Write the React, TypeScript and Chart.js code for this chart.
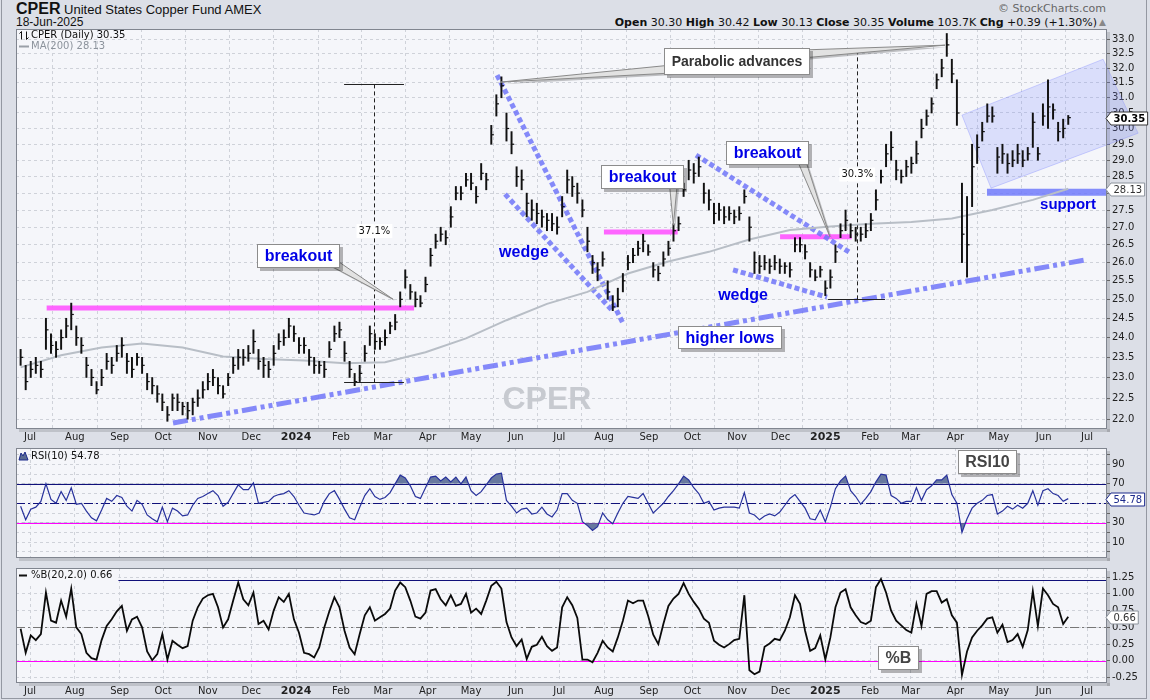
import React, { useEffect, useRef } from "react";
import { Chart, registerables } from "chart.js";

Chart.register(...registerables);

const FONT = "DejaVu Sans";
const HFONT = "Liberation Sans";
const GRID = "#cfd2d9";
const PANEL_BG = "#f5f6fa";
const OUTER_BG = "#dcdfe7";
const BLUE_TXT = "#0000e6";

// ---------------- data ----------------
// bars sampled twice a week, 24-Jun-2023 .. 18-Jun-2025
const CLOSE = [
  23.5, 22.9, 23.2, 23.3, 23.2, 24.2, 23.8, 23.7, 24.0, 24.3,
  24.6, 24.0, 23.8, 23.3, 23.0, 22.7, 23.0, 23.4, 23.3, 23.6,
  23.8, 23.4, 23.2, 23.5, 23.3, 22.9, 22.8, 22.6, 22.4, 22.1,
  22.5, 22.4, 22.3, 22.2, 22.4, 22.5, 22.7, 22.9, 23.0, 22.8,
  22.6, 23.0, 23.3, 23.5, 23.5, 23.6, 23.9, 23.4, 23.3, 23.2,
  23.6, 23.9, 24.0, 24.3, 24.1, 23.8, 23.8, 23.5, 23.3, 23.3,
  23.2, 23.7, 24.1, 24.2, 23.6, 23.2, 22.9, 23.1, 23.6, 24.1,
  23.9, 23.9, 24.0, 24.3, 24.4, 25.0, 25.6, 25.2, 25.0, 24.9,
  25.4, 26.2, 26.6, 26.8, 26.7, 27.3, 28.0, 28.0, 28.4, 28.3,
  27.9, 28.6, 28.4, 29.8, 30.8, 31.4, 30.0, 29.5, 28.5, 28.4,
  27.7, 27.5, 27.4, 27.3, 27.2, 27.1, 27.0, 27.6, 28.4, 28.2,
  28.0, 27.5, 26.6, 26.0, 25.8, 26.1, 25.2, 24.8, 25.0, 25.5,
  26.0, 26.2, 26.4, 26.6, 26.3, 25.8, 25.7, 26.1, 26.4, 26.9,
  27.1, 28.1, 28.7, 28.6, 28.8, 28.0, 27.8, 27.4, 27.5, 27.3,
  27.4, 27.3, 27.4, 27.9, 27.0, 26.0, 25.9, 26.0, 25.9, 26.0,
  25.9, 25.9, 25.8, 26.5, 26.5, 26.3, 25.8, 25.6, 25.8, 25.3,
  25.6, 26.3, 26.9, 27.2, 26.9, 26.8, 26.8, 26.9, 27.2, 27.8,
  28.5, 29.2, 29.4, 28.7, 28.5, 28.8, 28.9, 29.2, 30.0, 30.4,
  30.8, 31.6, 32.0, 32.8, 31.8, 30.5, 26.8, 26.5, 28.8, 29.4,
  29.9, 30.4, 30.4, 29.1, 29.2, 28.9, 29.0, 29.2, 29.0, 29.2,
  30.2, 29.2, 30.4, 30.7, 30.6, 29.9, 30.0, 30.35,
];
const HIGH = [
  23.7, 23.3, 23.4, 23.5, 23.4, 24.5, 24.1, 23.9, 24.2, 24.5,
  24.9, 24.3, 24.0, 23.5, 23.2, 22.9, 23.2, 23.6, 23.5, 23.8,
  24.0, 23.6, 23.5, 23.6, 23.5, 23.1, 23.0, 22.8, 22.6, 22.3,
  22.6, 22.6, 22.4, 22.4, 22.5, 22.7, 22.9, 23.1, 23.2, 23.0,
  22.8, 23.1, 23.5, 23.7, 23.7, 23.8, 24.2, 23.7, 23.5, 23.4,
  23.8, 24.1, 24.2, 24.5, 24.3, 24.0, 24.0, 23.7, 23.5, 23.4,
  23.4, 23.9, 24.3, 24.4, 23.9, 23.4, 23.1, 23.3, 23.8, 24.3,
  24.1, 24.0, 24.2, 24.4, 24.6, 25.2, 25.8, 25.4, 25.2, 25.1,
  25.6, 26.4, 26.8, 27.0, 26.9, 27.6, 28.2, 28.2, 28.6, 28.6,
  28.2, 28.9, 28.6, 30.1, 31.1, 31.7, 30.5, 29.9, 28.8, 28.7,
  28.0, 27.8, 27.7, 27.5, 27.4, 27.4, 27.3, 27.9, 28.7, 28.5,
  28.3, 27.8, 27.0, 26.2, 26.0, 26.3, 25.5, 25.1, 25.3, 25.7,
  26.2, 26.4, 26.6, 26.8, 26.5, 26.0, 25.9, 26.3, 26.6, 27.1,
  27.3, 28.3, 29.0, 28.9, 29.1, 28.3, 28.1, 27.7, 27.7, 27.6,
  27.6, 27.5, 27.6, 28.1, 27.3, 26.3, 26.2, 26.2, 26.1, 26.2,
  26.1, 26.0, 26.0, 26.7, 26.7, 26.5, 26.0, 25.8, 25.9, 25.5,
  25.8, 26.5, 27.1, 27.5, 27.1, 27.0, 27.0, 27.1, 27.4, 28.1,
  28.7, 29.5, 29.9, 29.0, 28.7, 29.0, 29.1, 29.6, 30.3, 30.6,
  31.0, 31.8, 32.3, 33.2, 32.3, 31.6, 28.3, 27.9, 29.5, 29.8,
  30.2, 30.8, 30.7, 29.4, 29.5, 29.2, 29.3, 29.5, 29.3, 29.4,
  30.5, 29.4, 30.8, 31.6, 30.8, 30.2, 30.3, 30.42,
];
const LOW = [
  23.3, 22.7, 23.0, 23.1, 23.0, 23.7, 23.6, 23.5, 23.7, 24.0,
  24.2, 23.8, 23.6, 23.0, 22.8, 22.6, 22.8, 23.2, 23.1, 23.4,
  23.5, 23.1, 23.0, 23.3, 23.1, 22.7, 22.6, 22.4, 22.2, 21.95,
  22.2, 22.2, 22.1, 22.0, 22.1, 22.3, 22.5, 22.7, 22.8, 22.6,
  22.5, 22.8, 23.1, 23.2, 23.3, 23.4, 23.6, 23.2, 23.0, 23.0,
  23.3, 23.7, 23.8, 24.0, 23.9, 23.6, 23.6, 23.3, 23.1, 23.1,
  23.0, 23.5, 23.9, 24.0, 23.4, 23.0, 22.8, 22.9, 23.4, 23.8,
  23.7, 23.7, 23.8, 24.1, 24.2, 24.8, 25.3, 25.0, 24.8, 24.8,
  25.2, 25.9, 26.4, 26.6, 26.5, 27.0, 27.8, 27.8, 28.2, 28.1,
  27.7, 28.4, 28.1, 29.5, 30.4, 31.0, 29.6, 29.2, 28.2, 28.1,
  27.3, 27.2, 27.1, 27.0, 26.9, 26.9, 26.8, 27.3, 28.0, 27.9,
  27.7, 27.3, 26.3, 25.7, 25.5, 25.9, 25.0, 24.7, 24.8, 25.2,
  25.8, 26.0, 26.2, 26.3, 26.2, 25.6, 25.5, 25.9, 26.2, 26.6,
  26.9, 27.9, 28.4, 28.3, 28.5, 27.7, 27.5, 27.1, 27.2, 27.1,
  27.2, 27.1, 27.2, 27.7, 26.6, 25.7, 25.7, 25.8, 25.7, 25.8,
  25.7, 25.7, 25.6, 26.3, 26.3, 26.1, 25.6, 25.5, 25.6, 25.1,
  25.3, 26.0, 26.7, 26.9, 26.7, 26.6, 26.6, 26.7, 26.9, 27.5,
  28.3, 28.8, 29.0, 28.4, 28.3, 28.5, 28.6, 28.9, 29.7, 30.1,
  30.5, 31.3, 31.7, 32.4, 31.5, 30.1, 26.0, 25.6, 27.6, 28.9,
  29.6, 30.2, 30.2, 28.6, 28.9, 28.6, 28.8, 28.9, 28.8, 29.0,
  29.4, 29.0, 30.1, 30.0, 30.3, 29.6, 29.7, 30.13,
];
// 200-day moving average, one reading every 8th bar (last one = latest bar)
const MA200 = [
  23.25, 23.55, 23.75, 23.85, 23.75, 23.52, 23.46, 23.42, 23.35, 23.38,
  23.63, 23.98, 24.45, 24.88, 25.2, 25.7, 26.03, 26.3, 26.65, 26.92,
  27.02, 27.1, 27.15, 27.25, 27.5, 27.8, 28.13,
];
const RSI10 = [
  47, 33, 44, 46, 52, 70, 54, 50, 62, 53,
  66, 49, 50, 42, 35, 32, 43, 55, 52, 58,
  56, 47, 42, 53, 49, 38, 34, 31, 46, 31,
  45, 42, 37, 38, 48, 55, 57, 60, 63, 58,
  47, 51, 60, 69, 64, 64, 71, 50, 51, 52,
  57, 59, 60, 63, 57, 48, 40, 39, 38, 40,
  52, 60, 63, 54, 44, 35, 33, 46, 58, 65,
  57, 54, 56, 61, 70, 79, 76, 68, 57, 55,
  66, 77, 78, 73, 77, 72, 77, 70, 77, 63,
  58, 62, 69, 76, 80, 81, 53, 47, 40, 44,
  45, 39, 40, 46, 39, 36, 43, 60, 60, 53,
  50, 31, 27, 22, 26, 40, 33, 29, 40, 50,
  57, 56, 55, 60, 50, 40, 45, 50, 57, 63,
  70, 78, 74, 66, 60, 50, 52, 43, 45, 46,
  46, 46, 45, 61, 40, 38, 33, 37, 39, 37,
  41, 48, 55, 59, 52, 45, 34, 33, 43, 31,
  46, 65, 73, 78, 63, 57, 49, 55, 62, 72,
  80, 79, 58, 55, 50, 52, 52, 66, 53, 64,
  68, 74, 74, 79, 59, 50, 20, 34, 45, 50,
  53, 58, 59, 39, 42, 47, 44, 48, 45, 50,
  63, 48, 63, 65, 60, 58, 52, 54.78,
];
const PCT_B = [
  0.48, 0.12, 0.38, 0.31, 0.40, 1.02, 0.60, 0.57, 0.90, 0.66,
  1.08, 0.50, 0.40, 0.12, 0.04, 0.02, 0.31, 0.52, 0.62, 0.74,
  0.82, 0.45, 0.62, 0.66, 0.50, 0.14, 0.01, 0.10, 0.40, 0.02,
  0.30, 0.24, 0.19, 0.22, 0.60, 0.80, 0.93, 0.98, 1.00, 0.80,
  0.50, 0.62, 0.90, 1.17, 0.92, 0.83, 1.02, 0.55, 0.60, 0.47,
  0.75, 0.95, 0.88, 1.00, 0.62, 0.42, 0.12, 0.10, 0.05, 0.20,
  0.50, 0.74, 0.95, 0.80, 0.45, 0.20, 0.10, 0.40, 0.68, 0.80,
  0.60, 0.65, 0.70, 0.78, 1.05, 1.17, 1.10, 0.90, 0.66, 0.63,
  0.72, 1.05, 1.07, 0.92, 0.83, 0.98, 0.82, 0.85, 1.00, 0.72,
  0.78, 0.70, 0.90, 1.12, 1.18, 1.08, 0.58, 0.35, 0.22, 0.32,
  0.03, 0.21, 0.24, 0.36, 0.22, 0.15, 0.20, 0.80, 0.95, 0.83,
  0.64, 0.02, 0.02, -0.02, 0.12, 0.30, 0.20, 0.14, 0.35, 0.60,
  0.90, 0.86, 0.90, 0.90, 0.67, 0.39, 0.25, 0.55, 0.82, 0.93,
  1.00, 1.16, 1.00, 0.88, 0.78, 0.63, 0.57, 0.30, 0.24, 0.20,
  0.25, 0.31, 0.33, 0.98, -0.14, -0.20, -0.16, 0.21, 0.26, 0.33,
  0.31, 0.45, 0.65, 0.98, 0.85, 0.45, 0.15, 0.19, 0.38, 0.02,
  0.35, 0.80, 1.02, 1.07, 0.80, 0.68, 0.58, 0.55, 0.60, 1.10,
  1.22, 1.02, 0.75, 0.60, 0.53, 0.46, 0.42, 0.85, 0.52, 1.00,
  1.04, 1.04, 0.87, 0.92, 0.68, 0.57, -0.21, 0.14, 0.35, 0.45,
  0.53, 0.63, 0.65, 0.42, 0.54, 0.28, 0.31, 0.40, 0.21, 0.46,
  1.04, 0.52, 1.08, 0.98, 0.85, 0.80, 0.55, 0.66,
];

const PRICE_TICKS = [22.0, 22.5, 23.0, 23.5, 24.0, 24.5, 25.0, 25.5, 26.0, 26.5, 27.0, 27.5, 28.0, 28.5, 29.0, 29.5, 30.0, 30.5, 31.0, 31.5, 32.0, 32.5, 33.0];
const RSI_GRID = [0, 10, 20, 30, 40, 50, 60, 70, 80, 90, 100];
const RSI_LABELS = [10, 30, 50, 70, 90];
const PCTB_TICKS = [-0.25, 0, 0.25, 0.5, 0.75, 1.0, 1.25];
const MONTH_NAMES = ["Jan", "Feb", "Mar", "Apr", "May", "Jun", "Jul", "Aug", "Sep", "Oct", "Nov", "Dec"];

// x axis is "days after 1-Jul-2023"
const LAST_DAY = 718; // 18-Jun-2025
const DAY_STEP = 3.5;
const N = CLOSE.length;
const DAYS = CLOSE.map((_, i) => LAST_DAY - DAY_STEP * (N - 1 - i));
const MA_STEP = 8;
const MA_DAYS = MA200.map((_, k) => (k < MA200.length - 1 ? DAYS[k * MA_STEP] : DAYS[N - 1]));
const BASE_MS = Date.UTC(2023, 6, 1);
const MONTH_TICKS = Array.from({ length: 25 }, (_, k) => {
  const d = new Date(Date.UTC(2023, 6 + k, 1));
  const m = d.getUTCMonth();
  return {
    day: Math.round((d.getTime() - BASE_MS) / 864e5),
    label: m === 0 ? String(d.getUTCFullYear()) : MONTH_NAMES[m],
    year: m === 0,
  };
});
const X_MIN = -9.7;
const X_MAX = 744.8;

// annotations (in data units: day, price)
const PINK_LEVELS = [
  { from: 11.5, to: 265.6, price: 24.77 },
  { from: 396.9, to: 447.9, price: 26.86 },
  { from: 518.7, to: 568.2, price: 26.73 },
];
const WEDGES = [
  [323, 31.76, 410.1, 24.37],
  [328.5, 27.97, 402.5, 24.71],
  [460.6, 29.16, 567.8, 26.26],
  [486.2, 25.8, 551.2, 25.06],
];
const HIGHER_LOWS = [98.9, 21.91, 729.1, 26.07];
const SUPPORT = { from: 661.8, to: 744.8, price: 28.03 };
const CHANNEL = [[644.5, 30.43], [742.1, 32.3], [766.3, 29.85], [664.6, 28.15]];
const MEASURES = [
  { day: 238.2, from: 22.88, to: 31.45, capFrom: 217.2, capTo: 258.6, topCap: true, label: "37.1%", labelAt: 26.89 },
  { day: 572.1, from: 25.0, to: 32.58, capFrom: 551.9, capTo: 591.3, topCap: false, label: "30.3%", labelAt: 28.56 },
];
const CALLOUTS = [
  { text: "breakout", day: 185.7, val: 26.17, tips: [[251.2, 25.0]], color: BLUE_TXT, size: 16, h: 24 },
  { text: "Parabolic advances", day: 488.6, val: 32.24, tips: [[325, 31.52], [632.8, 32.79]], color: "#333", size: 14, h: 27 },
  { text: "breakout", day: 423.4, val: 28.5, tips: [[444.9, 27.06]], color: BLUE_TXT, size: 16, h: 24 },
  { text: "breakout", day: 509.7, val: 29.21, tips: [[553.3, 26.72]], color: BLUE_TXT, size: 16, h: 24 },
  { text: "higher lows", day: 484.4, val: 24.01, tips: [], color: BLUE_TXT, size: 16, h: 23 },
];
const LABELS = [
  { text: "wedge", day: 341.6, val: 26.29, size: 16 },
  { text: "wedge", day: 493.1, val: 25.09, size: 16 },
  { text: "support", day: 717.8, val: 27.65, size: 15 },
];
const WATERMARK = { text: "CPER", day: 357.5, val: 22.45 };
const RSI_LEVELS = [
  { v: 70, color: "#10107a", dash: [] as number[] },
  { v: 50, color: "#10107a", dash: [9, 3, 2, 3] },
  { v: 30, color: "#ff00ff", dash: [] as number[] },
];
const PCTB_LEVELS = [
  { v: 1.2, color: "#10107a", dash: [] as number[] },
  { v: 0.5, color: "#777777", dash: [9, 3, 2, 3] },
  { v: 0, color: "#ff00ff", dash: [] as number[] },
];

// ---------------- drawing helpers ----------------
function P(chart: any, day: number, val: number): [number, number] {
  return [chart.scales.x.getPixelForValue(day), chart.scales.y.getPixelForValue(val)];
}

function panelBg(chart: any) {
  const { ctx, chartArea: a } = chart;
  ctx.save();
  ctx.fillStyle = "rgba(0,0,0,0.13)";
  ctx.fillRect(a.right, a.top + 3, 3, a.height);
  ctx.fillRect(a.left + 3, a.bottom, a.width, 3);
  ctx.fillStyle = PANEL_BG;
  ctx.fillRect(a.left, a.top, a.width, a.height);
  ctx.restore();
}

function panelBorder(chart: any) {
  const { ctx, chartArea: a } = chart;
  ctx.save();
  ctx.strokeStyle = "#80858f";
  ctx.lineWidth = 1;
  ctx.strokeRect(a.left + 0.5, a.top + 0.5, a.width - 1, a.height - 1);
  ctx.restore();
}

function levelLines(chart: any, levels: { v: number; color: string; dash: number[] }[]) {
  const { ctx, chartArea: a } = chart;
  ctx.save();
  levels.forEach((l) => {
    const y = Math.round(chart.scales.y.getPixelForValue(l.v)) + 0.5;
    ctx.strokeStyle = l.color;
    ctx.lineWidth = 1;
    ctx.setLineDash(l.dash);
    ctx.beginPath();
    ctx.moveTo(a.left, y);
    ctx.lineTo(a.right, y);
    ctx.stroke();
  });
  ctx.restore();
}

function drawCallout(chart: any, c: any) {
  const ctx = chart.ctx;
  ctx.save();
  ctx.font = `bold ${c.size}px ${HFONT}`;
  const tw = ctx.measureText(c.text).width;
  const [cx, cy] = P(chart, c.day, c.val);
  const w = Math.round(tw + 15);
  const h = c.h;
  const L = Math.round(cx - w / 2);
  const T = Math.round(cy - h / 2);
  const R = L + w;
  const B = T + h;
  c.tips.forEach((tip: number[]) => {
    const [tx, ty] = P(chart, tip[0], tip[1]);
    const bx = Math.min(Math.max(tx, L + 8), R - 8);
    const by = Math.min(Math.max(ty, T + 6), B - 6);
    const len = Math.hypot(tx - bx, ty - by) || 1;
    const nx = (-(ty - by) / len) * 4;
    const ny = ((tx - bx) / len) * 4;
    const tri = (ox: number, oy: number) => {
      ctx.beginPath();
      ctx.moveTo(bx + nx + ox, by + ny + oy);
      ctx.lineTo(tx + ox, ty + oy);
      ctx.lineTo(bx - nx + ox, by - ny + oy);
      ctx.closePath();
    };
    ctx.fillStyle = "rgba(0,0,0,0.22)";
    tri(2, 2);
    ctx.fill();
    ctx.fillStyle = "#e2e2e2";
    ctx.strokeStyle = "#8a8a8a";
    ctx.lineWidth = 1;
    tri(0, 0);
    ctx.fill();
    ctx.stroke();
  });
  ctx.fillStyle = "rgba(0,0,0,0.28)";
  ctx.fillRect(L + 3, T + 3, w, h);
  ctx.fillStyle = "#ffffff";
  ctx.fillRect(L, T, w, h);
  ctx.strokeStyle = "#8c8c8c";
  ctx.lineWidth = 1;
  ctx.strokeRect(L + 0.5, T + 0.5, w - 1, h - 1);
  ctx.fillStyle = c.color;
  ctx.textAlign = "center";
  ctx.textBaseline = "middle";
  ctx.fillText(c.text, L + w / 2, T + h / 2 + 1);
  ctx.restore();
}

function drawFlag(chart: any, val: number, text: string, opts: { bold: boolean; border: string; color: string }) {
  const ctx = chart.ctx;
  const a = chart.chartArea;
  const y = Math.round(chart.scales.y.getPixelForValue(val)) + 0.5;
  const x = a.right - 1;
  ctx.save();
  ctx.font = `${opts.bold ? "bold " : ""}10px ${FONT}`;
  const tw = ctx.measureText(text).width;
  const h = 13;
  const ar = 5;
  ctx.beginPath();
  ctx.moveTo(x, y);
  ctx.lineTo(x + ar, y - h / 2);
  ctx.lineTo(x + ar + tw + 5, y - h / 2);
  ctx.lineTo(x + ar + tw + 5, y + h / 2);
  ctx.lineTo(x + ar, y + h / 2);
  ctx.closePath();
  ctx.fillStyle = "#ffffff";
  ctx.fill();
  ctx.strokeStyle = opts.border;
  ctx.lineWidth = 1;
  ctx.stroke();
  ctx.fillStyle = opts.color;
  ctx.textAlign = "left";
  ctx.textBaseline = "middle";
  ctx.fillText(text, x + ar + 2.5, y + 0.5);
  ctx.restore();
}

function legendText(ctx: any, x: number, y: number, text: string, color: string) {
  ctx.fillStyle = color;
  ctx.font = `10px ${FONT}`;
  ctx.textAlign = "left";
  ctx.textBaseline = "middle";
  ctx.fillText(text, x, y);
}

function segLine(chart: any, seg: number[], width: number, color: string, dash: number[]) {
  const ctx = chart.ctx;
  const [x1, y1] = P(chart, seg[0], seg[1]);
  const [x2, y2] = P(chart, seg[2], seg[3]);
  ctx.save();
  ctx.strokeStyle = color;
  ctx.lineWidth = width;
  ctx.setLineDash(dash);
  ctx.lineCap = "butt";
  ctx.beginPath();
  ctx.moveTo(x1, y1);
  ctx.lineTo(x2, y2);
  ctx.stroke();
  ctx.restore();
}

function xScale(showLabels: boolean) {
  return {
    type: "linear",
    min: X_MIN,
    max: X_MAX,
    offset: false,
    afterBuildTicks: (s: any) => {
      s.ticks = MONTH_TICKS.map((t) => ({ value: t.day }));
    },
    afterFit: (s: any) => {
      s.height = showLabels ? 14 : 0;
    },
    ticks: {
      display: showLabels,
      autoSkip: false,
      maxRotation: 0,
      minRotation: 0,
      padding: 2,
      color: "#222",
      callback: (v: any) => {
        const t = MONTH_TICKS.find((m) => m.day === v);
        return t ? t.label : "";
      },
      font: (ctx: any) => {
        const t = MONTH_TICKS.find((m) => m.day === (ctx.tick && ctx.tick.value));
        return { family: FONT, size: t && t.year ? 11 : 10, weight: t && t.year ? "bold" : "normal" };
      },
    },
    grid: { color: GRID, drawTicks: false, lineWidth: 1 },
    border: { display: false, dash: [3, 3] },
  };
}

function rightY(extra: any) {
  return {
    position: "right",
    afterFit: (s: any) => {
      s.width = 43;
    },
    grid: { color: GRID, tickColor: "#666", tickLength: 3, drawTicks: true, lineWidth: 1 },
    border: { display: false, dash: [3, 3] },
    ...extra,
  };
}

// ---------------- plugins ----------------
const pricePlugin = {
  id: "priceDecor",
  beforeDraw(chart: any) {
    panelBg(chart);
  },
  beforeDatasetsDraw(chart: any) {
    const { ctx, chartArea: a } = chart;
    ctx.save();
    ctx.beginPath();
    ctx.rect(a.left, a.top, a.width, a.height);
    ctx.clip();
    // watermark
    const [wx, wy] = P(chart, WATERMARK.day, WATERMARK.val);
    ctx.font = `bold 32px ${HFONT}`;
    ctx.fillStyle = "#c7cad0";
    ctx.textAlign = "center";
    ctx.textBaseline = "middle";
    ctx.fillText(WATERMARK.text, wx, wy);
    // pink breakout levels
    PINK_LEVELS.forEach((l) => segLine(chart, [l.from, l.price, l.to, l.price], 5, "rgba(255,85,255,0.9)", []));
    // higher lows trend line
    segLine(chart, HIGHER_LOWS, 5, "rgba(112,118,248,0.85)", [15, 4, 4, 4, 4, 4]);
    // wedges
    WEDGES.forEach((w) => segLine(chart, w, 5, "rgba(112,118,248,0.85)", [5, 3]));
    // support
    segLine(chart, [SUPPORT.from, SUPPORT.price, SUPPORT.to, SUPPORT.price], 7, "rgba(112,122,250,0.85)", []);
    ctx.restore();
    // rising channel (extends past the plot)
    ctx.save();
    ctx.beginPath();
    CHANNEL.forEach((c, i) => {
      const [x, y] = P(chart, c[0], c[1]);
      if (i === 0) ctx.moveTo(x, y);
      else ctx.lineTo(x, y);
    });
    ctx.closePath();
    ctx.fillStyle = "rgba(125,135,255,0.22)";
    ctx.fill();
    ctx.strokeStyle = "rgba(125,135,255,0.35)";
    ctx.lineWidth = 1;
    ctx.stroke();
    ctx.restore();
  },
  afterDatasetsDraw(chart: any) {
    const { ctx, chartArea: a } = chart;
    // measurements
    MEASURES.forEach((m) => {
      const [x, y1] = P(chart, m.day, m.from);
      const [, y2] = P(chart, m.day, m.to);
      const [c1] = P(chart, m.capFrom, m.from);
      const [c2] = P(chart, m.capTo, m.from);
      const xs = Math.round(x) + 0.5;
      ctx.save();
      ctx.strokeStyle = "#222";
      ctx.lineWidth = 1;
      ctx.setLineDash([4, 3]);
      ctx.beginPath();
      ctx.moveTo(xs, y1);
      ctx.lineTo(xs, y2);
      ctx.stroke();
      ctx.setLineDash([]);
      ctx.beginPath();
      ctx.moveTo(c1, Math.round(y1) + 0.5);
      ctx.lineTo(c2, Math.round(y1) + 0.5);
      if (m.topCap) {
        ctx.moveTo(c1, Math.round(y2) + 0.5);
        ctx.lineTo(c2, Math.round(y2) + 0.5);
      }
      ctx.stroke();
      const [, ly] = P(chart, m.day, m.labelAt);
      ctx.font = `10px ${FONT}`;
      const tw = ctx.measureText(m.label).width;
      ctx.fillStyle = "#ffffff";
      ctx.fillRect(x - tw / 2 - 2, ly - 7, tw + 4, 14);
      ctx.fillStyle = "#111";
      ctx.textAlign = "center";
      ctx.textBaseline = "middle";
      ctx.fillText(m.label, x, ly);
      ctx.restore();
    });
    // plain labels
    ctx.save();
    LABELS.forEach((l) => {
      const [x, y] = P(chart, l.day, l.val);
      ctx.font = `bold ${l.size}px ${HFONT}`;
      ctx.fillStyle = BLUE_TXT;
      ctx.textAlign = "center";
      ctx.textBaseline = "middle";
      ctx.fillText(l.text, x, y);
    });
    ctx.restore();
    CALLOUTS.forEach((c) => drawCallout(chart, c));
    // legend
    ctx.save();
    const lx = a.left + 4;
    const ly = a.top + 6.5;
    ctx.strokeStyle = "#111";
    ctx.lineWidth = 1;
    ctx.beginPath();
    ctx.moveTo(lx + 1.5, ly - 4);
    ctx.lineTo(lx + 1.5, ly + 4);
    ctx.moveTo(lx + 1.5, ly - 4);
    ctx.lineTo(lx - 0.5, ly - 2);
    ctx.moveTo(lx + 6.5, ly - 4);
    ctx.lineTo(lx + 6.5, ly + 4);
    ctx.moveTo(lx + 6.5, ly + 4);
    ctx.lineTo(lx + 8.5, ly + 2);
    ctx.stroke();
    legendText(ctx, a.left + 15, ly, `CPER (Daily) ${CLOSE[N - 1].toFixed(2)}`, "#111");
    ctx.strokeStyle = "#9aa0a8";
    ctx.lineWidth = 2;
    ctx.beginPath();
    ctx.moveTo(lx - 1, ly + 11);
    ctx.lineTo(lx + 9, ly + 11);
    ctx.stroke();
    legendText(ctx, a.left + 15, ly + 11, `MA(200) ${MA200[MA200.length - 1].toFixed(2)}`, "#8c939c");
    ctx.restore();
  },
  afterDraw(chart: any) {
    panelBorder(chart);
    drawFlag(chart, MA200[MA200.length - 1], MA200[MA200.length - 1].toFixed(2), { bold: false, border: "#8c939c", color: "#333" });
    drawFlag(chart, CLOSE[N - 1], CLOSE[N - 1].toFixed(2), { bold: true, border: "#333", color: "#000" });
  },
};

const rsiPlugin = {
  id: "rsiDecor",
  beforeDraw(chart: any) {
    panelBg(chart);
  },
  beforeDatasetsDraw(chart: any) {
    levelLines(chart, RSI_LEVELS);
  },
  afterDatasetsDraw(chart: any) {
    const { ctx, chartArea: a } = chart;
    drawCallout(chart, { text: "RSI10", day: 662.2, val: 92, tips: [], color: "#444", size: 16, h: 24 });
    ctx.save();
    const lx = a.left + 3;
    const ly = a.top + 8;
    ctx.fillStyle = "#5a6b93";
    ctx.strokeStyle = "#1c2a8c";
    ctx.lineWidth = 1;
    ctx.beginPath();
    ctx.moveTo(lx, ly + 4);
    ctx.lineTo(lx + 2, ly - 3);
    ctx.lineTo(lx + 4, ly);
    ctx.lineTo(lx + 6, ly - 4);
    ctx.lineTo(lx + 9, ly + 4);
    ctx.closePath();
    ctx.fill();
    ctx.stroke();
    legendText(ctx, a.left + 15, ly, `RSI(10) ${RSI10[N - 1].toFixed(2)}`, "#111");
    ctx.restore();
  },
  afterDraw(chart: any) {
    panelBorder(chart);
    drawFlag(chart, RSI10[N - 1], RSI10[N - 1].toFixed(2), { bold: false, border: "#1c2a8c", color: "#1c2a8c" });
  },
};

const pctbPlugin = {
  id: "pctbDecor",
  beforeDraw(chart: any) {
    panelBg(chart);
  },
  beforeDatasetsDraw(chart: any) {
    levelLines(chart, PCTB_LEVELS);
  },
  afterDatasetsDraw(chart: any) {
    const { ctx, chartArea: a } = chart;
    drawCallout(chart, { text: "%B", day: 600.9, val: 0.04, tips: [], color: "#444", size: 16, h: 24 });
    ctx.save();
    const text = `%B(20,2.0) ${PCT_B[N - 1].toFixed(2)}`;
    ctx.font = `10px ${FONT}`;
    const tw = ctx.measureText(text).width;
    ctx.fillStyle = PANEL_BG;
    ctx.fillRect(a.left + 1, a.top + 1, tw + 20, 14);
    const ly = a.top + 7.5;
    ctx.strokeStyle = "#111";
    ctx.lineWidth = 2;
    ctx.beginPath();
    ctx.moveTo(a.left + 3, ly);
    ctx.lineTo(a.left + 11, ly);
    ctx.stroke();
    legendText(ctx, a.left + 15, ly, text, "#111");
    ctx.restore();
  },
  afterDraw(chart: any) {
    panelBorder(chart);
    drawFlag(chart, PCT_B[N - 1], PCT_B[N - 1].toFixed(2), { bold: false, border: "#8c939c", color: "#333" });
  },
};

// ---------------- charts ----------------
const baseOptions = {
  responsive: false,
  maintainAspectRatio: false,
  animation: false,
  events: [] as any[],
  plugins: { legend: { display: false }, tooltip: { enabled: false } },
};

function makePrice(canvas: HTMLCanvasElement) {
  return new Chart(canvas, {
    type: "bar",
    data: {
      datasets: [
        {
          type: "bar",
          data: DAYS.map((d, i) => ({ x: d, y: [LOW[i], HIGH[i]] })),
          backgroundColor: "#111",
          barThickness: 1.3,
          grouped: false,
          order: 2,
        } as any,
        {
          type: "scatter",
          data: DAYS.map((d, i) => ({ x: d, y: CLOSE[i] })),
          pointStyle: "dash",
          pointRadius: 2.6,
          pointBorderWidth: 1.2,
          pointBorderColor: "#111",
          borderColor: "#111",
          order: 1,
        } as any,
        {
          type: "line",
          data: MA_DAYS.map((d, k) => ({ x: d, y: MA200[k] })),
          borderColor: "#b8bec6",
          borderWidth: 2,
          pointRadius: 0,
          order: 3,
        } as any,
      ],
    },
    options: {
      ...baseOptions,
      layout: { padding: { left: 16, top: 29, right: 0, bottom: 2 } },
      scales: {
        x: xScale(true),
        y: rightY({
          type: "logarithmic",
          min: 21.77,
          max: 33.36,
          afterBuildTicks: (s: any) => {
            s.ticks = PRICE_TICKS.map((v) => ({ value: v }));
          },
          ticks: {
            autoSkip: false,
            padding: 2,
            color: "#222",
            font: { family: FONT, size: 10 },
            callback: (v: any) => Number(v).toFixed(1),
          },
        }),
      },
    } as any,
    plugins: [pricePlugin],
  } as any);
}

function makeRsi(canvas: HTMLCanvasElement) {
  const pts = DAYS.map((d, i) => ({ x: d, y: RSI10[i] }));
  const fillCol = "rgba(78,98,142,0.85)";
  return new Chart(canvas, {
    type: "line",
    data: {
      datasets: [
        {
          data: pts,
          borderColor: "#27319c",
          borderWidth: 1.2,
          pointRadius: 0,
          fill: { target: { value: 70 }, above: fillCol, below: "rgba(0,0,0,0)" },
        },
        {
          data: pts,
          borderColor: "rgba(0,0,0,0)",
          borderWidth: 1,
          pointRadius: 0,
          fill: { target: { value: 30 }, above: "rgba(0,0,0,0)", below: fillCol },
        },
      ],
    },
    options: {
      ...baseOptions,
      layout: { padding: { left: 16, top: 3, right: 0, bottom: 3 } },
      scales: {
        x: xScale(false),
        y: rightY({
          type: "linear",
          min: -6.3,
          max: 106.9,
          afterBuildTicks: (s: any) => {
            s.ticks = RSI_GRID.map((v) => ({ value: v }));
          },
          ticks: {
            autoSkip: false,
            padding: 2,
            color: "#222",
            font: { family: FONT, size: 10 },
            callback: (v: any) => (RSI_LABELS.includes(Number(v)) ? String(v) : ""),
          },
        }),
      },
    } as any,
    plugins: [rsiPlugin],
  } as any);
}

function makePctB(canvas: HTMLCanvasElement) {
  return new Chart(canvas, {
    type: "line",
    data: {
      datasets: [
        {
          data: DAYS.map((d, i) => ({ x: d, y: PCT_B[i] })),
          borderColor: "#0a0a0a",
          borderWidth: 1.8,
          pointRadius: 0,
        },
      ],
    },
    options: {
      ...baseOptions,
      layout: { padding: { left: 16, top: 3, right: 0, bottom: 3 } },
      scales: {
        x: xScale(true),
        y: rightY({
          type: "linear",
          min: -0.33,
          max: 1.386,
          afterBuildTicks: (s: any) => {
            s.ticks = PCTB_TICKS.map((v) => ({ value: v }));
          },
          ticks: {
            autoSkip: false,
            padding: 2,
            color: "#222",
            font: { family: FONT, size: 10 },
            callback: (v: any) => Number(v).toFixed(2),
          },
        }),
      },
    } as any,
    plugins: [pctbPlugin],
  } as any);
}

export default function App() {
  const priceRef = useRef<HTMLCanvasElement>(null);
  const rsiRef = useRef<HTMLCanvasElement>(null);
  const pctbRef = useRef<HTMLCanvasElement>(null);

  useEffect(() => {
    const charts = [
      makePrice(priceRef.current as HTMLCanvasElement),
      makeRsi(rsiRef.current as HTMLCanvasElement),
      makePctB(pctbRef.current as HTMLCanvasElement),
    ];
    return () => charts.forEach((c) => c.destroy());
  }, []);

  const abs = (left: number, top: number, w: number, h: number): React.CSSProperties => ({
    position: "absolute",
    left,
    top,
    width: w,
    height: h,
  });

  return (
    <div
      style={{
        position: "absolute",
        left: 0,
        top: 0,
        width: 1150,
        height: 700,
        background: OUTER_BG,
        overflow: "hidden",
        fontFamily: FONT,
        color: "#111",
      }}
    >
      <div style={{ position: "absolute", left: 1, top: -2, width: 1146, height: 701, border: "1px solid #9498a2", boxSizing: "border-box" }} />
      <div style={{ position: "absolute", left: 16, top: 1, whiteSpace: "nowrap", fontFamily: HFONT, lineHeight: "16px" }}>
        <span style={{ fontWeight: "bold", fontSize: 16 }}>CPER</span>
        <span style={{ fontSize: 13 }}> United States Copper Fund AMEX</span>
      </div>
      <div style={{ position: "absolute", left: 16, top: 16, fontFamily: HFONT, fontSize: 12, lineHeight: "13px" }}>18-Jun-2025</div>
      <div style={{ position: "absolute", right: 44, top: 2, fontSize: 11, color: "#666", lineHeight: "13px" }}>© StockCharts.com</div>
      <div style={{ position: "absolute", right: 53, top: 16, fontSize: 11, lineHeight: "13px", whiteSpace: "nowrap" }}>
        <b>Open</b> 30.30 <b>High</b> 30.42 <b>Low</b> 30.13 <b>Close</b> 30.35 <b>Volume</b> 103.7K <b>Chg</b> +0.39 (+1.30%)
      </div>
      <div style={{ position: "absolute", left: 1099, top: 16, fontSize: 9, color: "#888", lineHeight: "13px" }}>▲</div>
      <canvas ref={priceRef} width={1150} height={445} style={abs(0, 0, 1150, 445)} />
      <canvas ref={rsiRef} width={1150} height={126} style={abs(0, 440, 1150, 126)} />
      <canvas ref={pctbRef} width={1150} height={140} style={abs(0, 560, 1150, 140)} />
    </div>
  );
}
